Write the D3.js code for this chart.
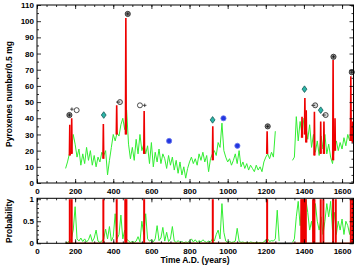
<!DOCTYPE html>
<html>
<head>
<meta charset="utf-8">
<script src="https://cdn.jsdelivr.net/npm/d3@7"></script>
<style>
  body { margin: 0; background: #fff; }
  text { font-family: "Liberation Sans", Arial, sans-serif; font-weight: bold; }
</style>
</head>
<body>
<div id="chart"></div>
<script>
const width = 358
const height = 266

// pyroxene counts, 10-year steps
const countStart1 = 150
const counts1 = [9, 13, 18, 20, 30, 24, 16, 21, 11, 18, 12, 22, 14, 20, 11, 17, 10, 16, 13, 19,
  17, 20, 5, 14, 22, 30, 26, 31, 29, 36, 40, 33, 45, 24, 15, 22, 14, 27, 18, 30,
  20, 24, 18, 23, 12, 25, 10, 19, 13, 21, 12, 18, 15, 9, 17, 11, 16, 8, 14, 6,
  13, 5, 10, 3, 9, 13, 16, 12, 15, 11, 18, 14, 19, 13, 17, 7, 15, 18, 20, 17,
  25, 22, 37, 20, 16, 13, 15, 11, 14, 18, 12, 20, 10, 13, 9, 12, 8, 11, 9, 7,
  11, 8, 10, 7, 13, 16, 18, 15, 19, 16, 32]
const countStart2 = 1340
const counts2 = [14, 16, 41, 26, 38, 30, 40, 35, 27, 36, 22, 30, 19, 26, 17, 29, 21, 30, 18, 24,
  16, 12, 22, 26, 20, 25, 21, 28, 23, 30, 26, 35]

// red peaks: year, base, top
const peakYears = [172, 182, 348, 418, 466, 562, 922, 1207, 1390, 1405, 1412, 1455, 1488, 1505, 1553, 1563, 1646, 1656]
const peakBase  = [17, 18, 15, 30, 30, 18, 14, 18, 28, 30, 25, 17, 18, 18, 14, 20, 26, 25]
const peakTop   = [36, 40, 36.5, 48, 102, 44.5, 35, 32, 41, 52.5, 45, 44, 38, 38, 76, 40, 66, 38]

// symbols above the peaks
const markYears = [170, 208, 350, 435, 476, 540, 693, 921, 978, 1051, 1210, 1403, 1459, 1488, 1514, 1555, 1651]
const markVals  = [42, 45, 42, 50, 104.5, 48, 26, 39, 40, 23, 35, 58, 48, 45, 42, 78, 68.5]
const markTypes = ["g", "po", "d", "mo", "g", "op", "b", "d", "b", "b", "g", "d", "mo", "d", "mo", "g", "g"]

// probability, 10-year steps
const probStart1 = 150
const prob1 = [0.01, 0.02, 0.05, 0.1, 0.3, 0.83, 0.1, 0.05, 0.12, 0.04, 0.1, 0.03, 0.08, 0.2, 0.04, 0.12, 0.3, 0.05, 0.02, 0.05,
  0.1, 0.32, 0.1, 0.38, 0.05, 0.15, 0.67, 0.1, 0.2, 0.64, 0.1, 0.3, 0.1, 0.05, 0.02, 0.04, 0.02, 0.05, 0.15, 0.03,
  0.5, 0.2, 0.67, 0.1, 0.05, 0.08, 0.03, 0.1, 0.4, 0.06, 0.12, 0.36, 0.05, 0.25, 0.04, 0.1, 0.38, 0.05, 0.02, 0.06,
  0.02, 0.04, 0.01, 0.03, 0.02, 0.05, 0.1, 0.03, 0.08, 0.02, 0.06, 0.03, 0.08, 0.04, 0.02, 0.05, 0.03, 0.1, 0.05, 0.2,
  0.3, 0.1, 0.9, 0.25, 0.05, 0.02, 0.04, 0.02, 0.03, 0.05, 0.34, 0.05, 0.02, 0.03, 0.01, 0.02, 0.01, 0.03, 0.02, 0.01,
  0.02, 0.01, 0.02, 0.01, 0.03, 0.08, 0.1, 0.04, 0.06, 0.05, 0.1, 0.75, 0.05]
const probStart2 = 1340
const prob2 = [0.02, 0.1, 0.6, 0.95, 0.4, 0.9, 0.7, 1.0, 0.7, 0.3, 0.5, 0.2, 0.9, 0.5, 0.3, 0.6, 0.2, 0.5, 0.9, 0.6,
  0.95, 0.3, 0.7, 0.2, 0.5, 0.3, 0.55, 0.2, 0.5, 0.4, 0.2, 0.6, 0.3]
const probRedYears = [172, 182, 348, 418, 463, 469, 562, 922, 1207, 1386, 1392, 1398, 1404, 1410, 1448, 1455, 1488, 1502, 1553, 1567, 1646, 1656]

const xTicks = [0, 200, 400, 600, 800, 1000, 1200, 1400, 1600]
const yTicksTop = [0, 10, 20, 30, 40, 50, 60, 70, 80, 90, 100, 110]
const yTicksBot = [0, 0.5, 1]

const svg = d3.select("#chart").append("svg")
  .attr("width", width).attr("height", height)

const x = d3.scaleLinear().domain([0, 1660]).range([37, 353.5])
const yTop = d3.scaleLinear().domain([0, 110]).range([183, 5])
const yBot = d3.scaleLinear().domain([0, 1.02]).range([243.3, 198.3])

const green = "#33ee33"
const red = "#ee0000"

function series(start, vals) {
  return vals.map((v, i) => [start + i * 10, v])
}

// ---------- top panel ----------
const lineTop = d3.line().x(d => x(d[0])).y(d => yTop(d[1]))

;[series(countStart1, counts1), series(countStart2, counts2)].forEach(s => {
  svg.append("path").attr("d", lineTop(s))
    .attr("fill", "none").attr("stroke", green).attr("stroke-width", 1)
})

peakYears.forEach((yr, i) => {
  const pts = [[yr - 2, peakBase[i]], [yr, peakTop[i]], [yr + 2, peakBase[i]]]
  svg.append("path").attr("d", lineTop(pts))
    .attr("fill", red).attr("stroke", red).attr("stroke-width", 1.6)
    .attr("stroke-linejoin", "miter")
})

markYears.forEach((yr, i) => {
  const cx = x(yr), cy = yTop(markVals[i]), t = markTypes[i]
  const g = svg.append("g")
  if (t === "g") {
    g.append("circle").attr("cx", cx).attr("cy", cy).attr("r", 2.6)
      .attr("fill", "#8a8a8a").attr("stroke", "#222").attr("stroke-width", 0.8)
    g.append("path").attr("d", `M${cx - 1.6},${cy}H${cx + 1.6}M${cx},${cy - 1.6}V${cy + 1.6}`)
      .attr("stroke", "#111").attr("stroke-width", 0.8)
  } else if (t === "d") {
    g.append("path").attr("d", `M${cx},${cy - 3.3}L${cx + 2.4},${cy}L${cx},${cy + 3.3}L${cx - 2.4},${cy}Z`)
      .attr("fill", "#2bb5a8").attr("stroke", "#145a55").attr("stroke-width", 0.8)
  } else if (t === "b") {
    g.append("circle").attr("cx", cx).attr("cy", cy).attr("r", 2.6)
      .attr("fill", "#2236e0").attr("stroke", "#6b78ee").attr("stroke-width", 0.8)
  } else {
    g.append("circle").attr("cx", cx).attr("cy", cy).attr("r", 2.5)
      .attr("fill", t === "mo" ? "#d8d8d8" : "#fff").attr("stroke", "#222").attr("stroke-width", 0.8)
    if (t === "po") {
      g.append("path").attr("d", `M${cx - 6.5},${cy - 1}H${cx - 3}M${cx - 4.75},${cy - 2.75}V${cy + 0.75}`)
        .attr("stroke", "#222").attr("stroke-width", 0.8)
    } else if (t === "op") {
      g.append("path").attr("d", `M${cx + 3},${cy}H${cx + 6.5}M${cx + 4.75},${cy - 1.75}V${cy + 1.75}`)
        .attr("stroke", "#222").attr("stroke-width", 0.8)
    } else {
      g.append("path").attr("d", `M${cx - 3.8},${cy}H${cx}`)
        .attr("stroke", "#222").attr("stroke-width", 0.9)
    }
  }
})

// ---------- bottom panel ----------
const lineBot = d3.line().x(d => x(d[0])).y(d => yBot(d[1]))

;[series(probStart1, prob1), series(probStart2, prob2)].forEach(s => {
  svg.append("path").attr("d", lineBot(s))
    .attr("fill", "none").attr("stroke", green).attr("stroke-width", 1)
})

svg.selectAll(".pbar").data(probRedYears).enter().append("line")
  .attr("class", "pbar")
  .attr("x1", d => x(d)).attr("x2", d => x(d))
  .attr("y1", yBot(0)).attr("y2", yBot(1))
  .attr("stroke", red).attr("stroke-width", 2)

// baseline at p = 0
svg.append("path").attr("d", lineBot([[150, 0], [1262, 0]]))
  .attr("stroke", "#8b1a00").attr("stroke-width", 1.6)
svg.append("path").attr("d", lineBot([[1262, 0], [1340, 0]]))
  .attr("stroke", "#555").attr("stroke-width", 1.6)
svg.append("path").attr("d", lineBot([[1340, 0], [1660, 0]]))
  .attr("stroke", "#8b1a00").attr("stroke-width", 1.6)

// ---------- axes ----------
function styleAxis(g) {
  g.select(".domain").remove()
  g.selectAll("text").attr("font-size", 8).attr("font-family", "Liberation Sans, Arial, sans-serif")
    .attr("font-weight", "bold").attr("fill", "#000")
  g.selectAll("line").attr("stroke", "#000").attr("stroke-width", 0.8)
}

function frame(y, top, bottom, majorY, minorY, fmt) {
  svg.append("rect").attr("x", 37).attr("y", top).attr("width", 316.5).attr("height", bottom - top)
    .attr("fill", "none").attr("stroke", "#000").attr("stroke-width", 1)

  svg.append("g").attr("transform", `translate(0,${bottom})`)
    .call(d3.axisBottom(x).tickValues(xTicks).tickSize(-4).tickPadding(5).tickFormat(d3.format("d")))
    .call(styleAxis)
  svg.append("g").attr("transform", `translate(0,${bottom})`)
    .call(d3.axisBottom(x).tickValues(d3.range(0, 1660, 50)).tickSize(-2).tickFormat(""))
    .call(styleAxis)
  svg.append("g").attr("transform", `translate(0,${top})`)
    .call(d3.axisTop(x).tickValues(xTicks).tickSize(-4).tickFormat(""))
    .call(styleAxis)
  svg.append("g").attr("transform", `translate(0,${top})`)
    .call(d3.axisTop(x).tickValues(d3.range(0, 1660, 50)).tickSize(-2).tickFormat(""))
    .call(styleAxis)

  svg.append("g").attr("transform", "translate(37,0)")
    .call(d3.axisLeft(y).tickValues(majorY).tickSize(-4).tickPadding(3).tickFormat(fmt))
    .call(styleAxis)
  svg.append("g").attr("transform", "translate(37,0)")
    .call(d3.axisLeft(y).tickValues(minorY).tickSize(-2).tickFormat(""))
    .call(styleAxis)
  svg.append("g").attr("transform", "translate(353.5,0)")
    .call(d3.axisRight(y).tickValues(majorY).tickSize(-4).tickFormat(""))
    .call(styleAxis)
  svg.append("g").attr("transform", "translate(353.5,0)")
    .call(d3.axisRight(y).tickValues(minorY).tickSize(-2).tickFormat(""))
    .call(styleAxis)
}

frame(yTop, 5, 183, yTicksTop, d3.range(5, 110, 10), d3.format("d"))
frame(yBot, 198.3, 243.3, yTicksBot, [0.1, 0.2, 0.3, 0.4, 0.6, 0.7, 0.8, 0.9], d => d === 0.5 ? "0.5" : String(d))

// titles
svg.append("text").attr("transform", "translate(12,94) rotate(-90)")
  .attr("text-anchor", "middle").attr("font-size", 8.5).text("Pyroxenes number/0.5 mg")
svg.append("text").attr("transform", "translate(12,221) rotate(-90)")
  .attr("text-anchor", "middle").attr("font-size", 8.5).text("Probability")
svg.append("text").attr("x", 195).attr("y", 262.5)
  .attr("text-anchor", "middle").attr("font-size", 8.5).text("Time A.D. (years)")
</script>
</body>
</html>
